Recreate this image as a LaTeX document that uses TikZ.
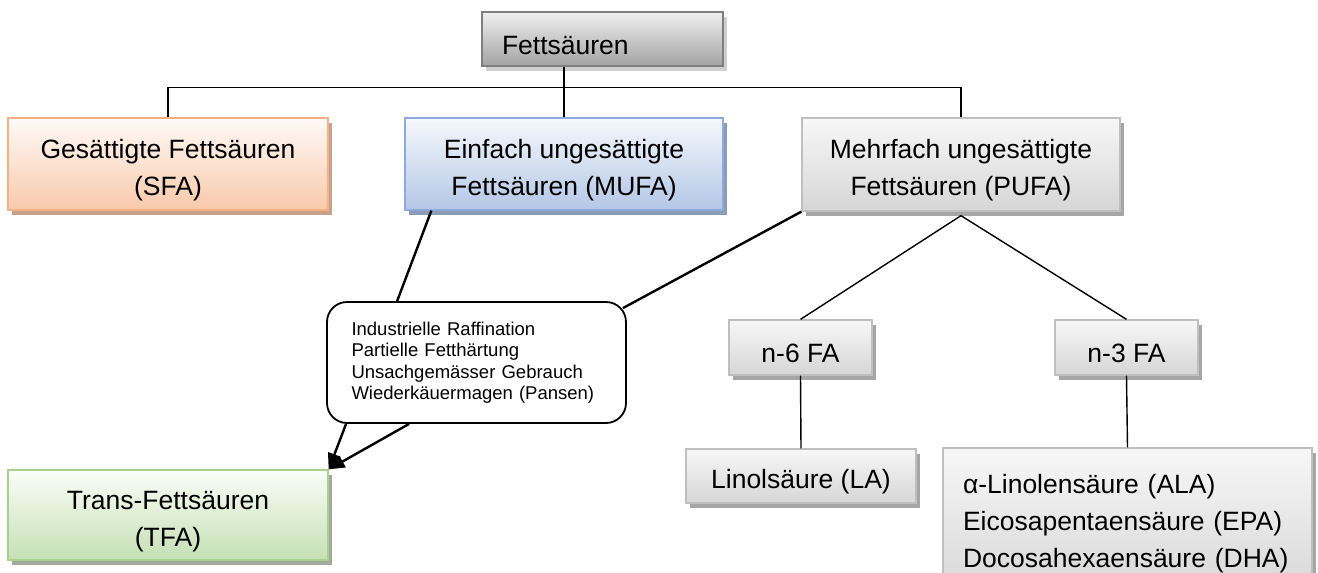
\documentclass[tikz,border=0pt]{standalone}
\usepackage{fontspec}
\setmainfont{Liberation Sans}
\usetikzlibrary{arrows.meta,shadows}

\definecolor{greyline}{HTML}{BFBFBF}
\definecolor{greytop}{HTML}{F7F7F7}
\definecolor{greybot}{HTML}{D6D6D6}
\definecolor{greyshadow}{HTML}{A6A6A6}
\definecolor{darkline}{HTML}{7F7F7F}
\definecolor{darktop}{HTML}{EFEFEF}
\definecolor{darkbot}{HTML}{A3A3A3}
\definecolor{darkshadow}{HTML}{CFCFCF}
\definecolor{orangeline}{HTML}{F4B183}
\definecolor{orangetop}{HTML}{FFFAF7}
\definecolor{orangebot}{HTML}{F8C9AA}
\definecolor{orangeshadow}{HTML}{C9A08A}
\definecolor{blueline}{HTML}{8EAADB}
\definecolor{bluetop}{HTML}{F5F8FC}
\definecolor{bluebot}{HTML}{B4C7E7}
\definecolor{blueshadow}{HTML}{8E9BB5}
\definecolor{greenline}{HTML}{A9D18E}
\definecolor{greentop}{HTML}{FAFDF8}
\definecolor{greenbot}{HTML}{C5E0B4}
\definecolor{greenshadow}{HTML}{A3AA9C}

% pushes the box text a little down, as in the original
\newcommand{\lowstrut}{\rule{0pt}{31pt}}

\tikzset{
  base/.style={draw, line width=1.3pt, align=center, inner sep=0pt,
    font=\fontsize{26.5}{37}\selectfont},
  greybox/.style={base, draw=greyline, top color=greytop, bottom color=greybot,
    drop shadow={shadow xshift=4pt, shadow yshift=-5pt, fill=greyshadow, opacity=1}},
  darkbox/.style={base, draw=darkline, top color=darktop, bottom color=darkbot,
    drop shadow={shadow xshift=4pt, shadow yshift=-5pt, fill=darkshadow, opacity=1}},
  orangebox/.style={base, draw=orangeline, top color=orangetop, bottom color=orangebot,
    drop shadow={shadow xshift=4pt, shadow yshift=-5pt, fill=orangeshadow, opacity=1}},
  bluebox/.style={base, draw=blueline, top color=bluetop, bottom color=bluebot,
    drop shadow={shadow xshift=4pt, shadow yshift=-5pt, fill=blueshadow, opacity=1}},
  greenbox/.style={base, draw=greenline, top color=greentop, bottom color=greenbot,
    drop shadow={shadow xshift=4pt, shadow yshift=-5pt, fill=greenshadow, opacity=1}},
  bubble/.style={draw, line width=1.8pt, fill=white, rounded corners=20pt, align=left,
    font=\fontsize{18.5}{21.5}\selectfont},
  tree/.style={line width=1.4pt},
  thickline/.style={line width=2.4pt},
}

\begin{document}
\begin{tikzpicture}[x=1pt, y=-1pt]
  \useasboundingbox (0,0) rectangle (1318,573);
  \clip (0,0) rectangle (1318,573);

  % top level
  \node[darkbox, align=left, text width=201pt, inner xsep=20pt,
        minimum width=241pt, minimum height=54pt] (fs) at (602.5,39) {\lowstrut Fettsäuren};

  % second level
  \node[orangebox, minimum width=320pt, minimum height=92pt] (sfa) at (168,164)
    {\lowstrut Gesättigte Fettsäuren\\(SFA)};
  \node[bluebox, minimum width=318pt, minimum height=92pt] (mufa) at (564,164)
    {\lowstrut Einfach ungesättigte\\Fettsäuren (MUFA)};
  \node[greybox, minimum width=318pt, minimum height=93pt] (pufa) at (961,164.5)
    {\lowstrut Mehrfach ungesättigte\\Fettsäuren (PUFA)};

  % tree lines from the top
  \draw[tree] (sfa.north) -- ++(0,-30) -| (pufa.north);
  \draw[tree] (fs.south -| mufa.north) -- (mufa.north);

  % causes of trans fats
  \node[bubble, minimum width=299pt, minimum height=121pt, text width=250pt,
        inner xsep=24.5pt] (bub) at (476.5,362.5)
    {Industrielle Raffination\\Partielle Fetthärtung\\Unsachgemässer Gebrauch\\Wiederkäuermagen (Pansen)};

  % trans fats
  \node[greenbox, minimum width=320pt, minimum height=90pt] (tfa) at (168,515)
    {\lowstrut Trans-Fettsäuren\\(TFA)};

  % omega groups
  \node[greybox, minimum width=143pt, minimum height=55pt] (n6) at (800.5,347.5) {\lowstrut n-6 FA};
  \node[greybox, minimum width=143pt, minimum height=55pt] (n3) at (1126.5,347.5) {\lowstrut n-3 FA};
  \node[greybox, minimum width=230pt, minimum height=54pt] (la) at (801,476) {\lowstrut Linolsäure (LA)};
  \node[greybox, align=left, text width=329pt, inner xsep=20pt,
        minimum width=369pt, minimum height=152pt] (ala) at (1127.5,524)
    {α-Linolensäure (ALA)\\Eicosapentaensäure (EPA)\\Docosahexaensäure (DHA)};

  % connectors
  \draw[thickline] ([xshift=27pt]mufa.south west) -- ([xshift=71pt]bub.north west);
  \draw[thickline] (pufa.south west) -- ([xshift=-4pt, yshift=-7pt]bub.north east);
  \draw[thickline, -{Triangle[length=16pt, width=13pt]}] ([xshift=20pt]bub.south west) -- (tfa.north east);
  \draw[thickline, -{Triangle[length=16pt, width=13pt]}] ([xshift=83pt]bub.south west) -- (tfa.north east);
  \draw[tree] ([yshift=-4pt]pufa.south) -- (n6.north);
  \draw[tree] ([yshift=-4pt]pufa.south) -- (n3.north);
  \draw[tree] (n6.south) -- (la.north);
  \draw[tree] (n3.south) -- (ala.north);
\end{tikzpicture}
\end{document}
